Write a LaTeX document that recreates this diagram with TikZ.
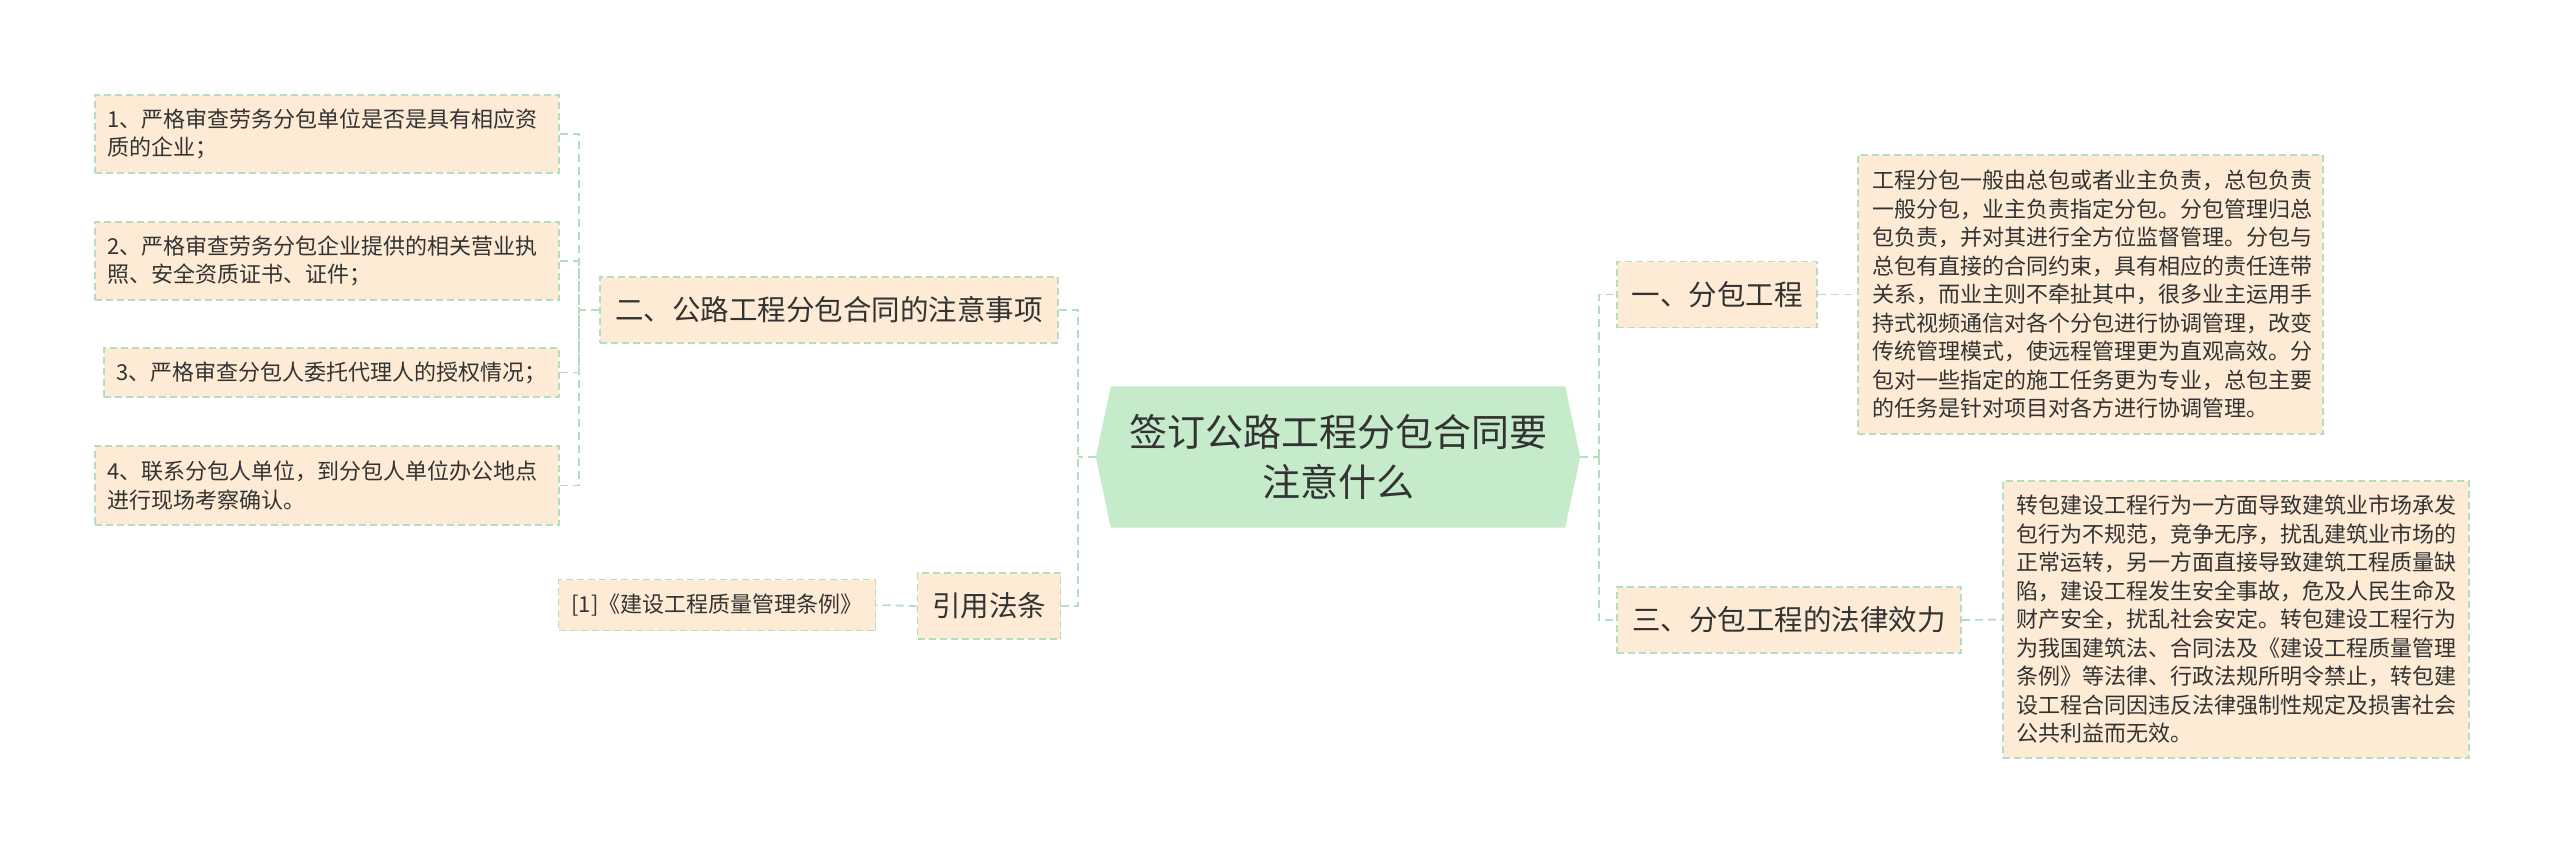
\documentclass[tikz,border=0pt]{standalone}
\usepackage{fontspec}
\setmainfont{Noto Sans CJK SC}
\usepackage{tikz}
\usepackage{xcolor}
\usetikzlibrary{positioning, calc, backgrounds}
\definecolor{MapBeige}{HTML}{FDEBD5}
\definecolor{MapGreen}{HTML}{B5DEC0}
\definecolor{MapRoot}{HTML}{C5EBCB}
\definecolor{MapText}{HTML}{333333}
\tikzset{
    % Node styles
    rootbox/.style={
        rectangle,
        draw=none,
        minimum width=484pt,
        minimum height=141pt,
        inner sep=0pt,
        align=center,
        text=MapText,
        font=\fontsize{38}{50}\selectfont
    },
    topicbox/.style={
        rectangle,
        draw=MapGreen,
        fill=MapBeige,
        line width=1.6pt,
        dash pattern=on 7pt off 4pt,
        minimum height=66pt,
        inner sep=0pt,
        text=MapText,
        font=\fontsize{28.5}{34}\selectfont
    },
    leafbox/.style={
        rectangle,
        draw=MapGreen,
        fill=MapBeige,
        line width=1.6pt,
        dash pattern=on 7pt off 4pt,
        inner xsep=12pt,
        inner ysep=0pt,
        align=left,
        text=MapText,
        font=\fontsize{22}{28.5}\selectfont
    },
    % Connector style
    link/.style={
        draw=MapGreen,
        line width=1.8pt,
        dash pattern=on 8pt off 5pt
    }
}
\begin{document}
\begin{tikzpicture}[x=1pt, y=-1pt]
    \useasboundingbox (0,0) rectangle (2560,854);

    % Central topic
    \node[rootbox] (root) at (1338,457) {签订公路工程分包合同要\\注意什么};
    \begin{scope}[on background layer]
        \fill[MapRoot] (root.west) -- ($(root.north west)+(15,0)$) -- ($(root.north east)+(-15,0)$)
            -- (root.east) -- ($(root.south east)+(-15,0)$) -- ($(root.south west)+(15,0)$) -- cycle;
    \end{scope}

    % Left branch: notes
    \node[topicbox,minimum width=458pt] (notes) at (829,310) {二、公路工程分包合同的注意事项};
    \node[leafbox,text width=440pt,minimum height=78pt] (n1) at (327,134) {1、严格审查劳务分包单位是否是具有相应资\\质的企业；};
    \node[leafbox,text width=440pt,minimum height=78pt] (n2) at (327,261) {2、严格审查劳务分包企业提供的相关营业执\\照、安全资质证书、证件；};
    \node[leafbox,text width=431pt,minimum height=49pt] (n3) at (331.5,372.5) {3、严格审查分包人委托代理人的授权情况；};
    \node[leafbox,text width=440pt,minimum height=79pt] (n4) at (327,485.5) {4、联系分包人单位，到分包人单位办公地点\\进行现场考察确认。};

    % Left branch: cited law
    \node[topicbox,minimum width=143pt] (law) at (989,606) {引用法条};
    \node[leafbox,minimum width=317pt,minimum height=51pt,inner xsep=8pt] (lawref) at (717,605) {[1]《建设工程质量管理条例》};

    % Right branch
    \node[topicbox,minimum width=200pt] (sub) at (1717,294.5) {一、分包工程};
    \node[leafbox,text width=437pt,minimum height=279pt,inner xsep=14pt] (subtext) at (2090.5,294.5) {工程分包一般由总包或者业主负责，总包负责\\一般分包，业主负责指定分包。分包管理归总\\包负责，并对其进行全方位监督管理。分包与\\总包有直接的合同约束，具有相应的责任连带\\关系，而业主则不牵扯其中，很多业主运用手\\持式视频通信对各个分包进行协调管理，改变\\传统管理模式，使远程管理更为直观高效。分\\包对一些指定的施工任务更为专业，总包主要\\的任务是针对项目对各方进行协调管理。};
    \node[topicbox,minimum width=344pt] (effect) at (1789,620) {三、分包工程的法律效力};
    \node[leafbox,text width=440pt,minimum height=277pt,inner xsep=13pt] (effecttext) at (2236,619.5) {转包建设工程行为一方面导致建筑业市场承发\\包行为不规范，竞争无序，扰乱建筑业市场的\\正常运转，另一方面直接导致建筑工程质量缺\\陷，建设工程发生安全事故，危及人民生命及\\财产安全，扰乱社会安定。转包建设工程行为\\为我国建筑法、合同法及《建设工程质量管理\\条例》等法律、行政法规所明令禁止，转包建\\设工程合同因违反法律强制性规定及损害社会\\公共利益而无效。};

    % Connectors
    \draw[link] (root.west) -- ++(-18,0) coordinate (rootleft);
    \draw[link] (notes.east) -| (rootleft);
    \draw[link] (law.east) -| (rootleft);
    \draw[link] (root.east) -- ++(19,0) coordinate (rootright);
    \draw[link] (rootright) |- (sub.west);
    \draw[link] (rootright) |- (effect.west);
    \draw[link] (notes.west) -- ++(-20,0) coordinate (notesleft);
    \draw[link] (n1.east) -| (notesleft);
    \draw[link] (n2.east) -| (notesleft);
    \draw[link] (n3.east) -| (notesleft);
    \draw[link] (n4.east) -| (notesleft);
    \draw[link] (law.west) -- (lawref.east);
    \draw[link] (sub.east) -- (subtext.west);
    \draw[link] (effect.east) -- (effecttext.west);
\end{tikzpicture}
\end{document}
